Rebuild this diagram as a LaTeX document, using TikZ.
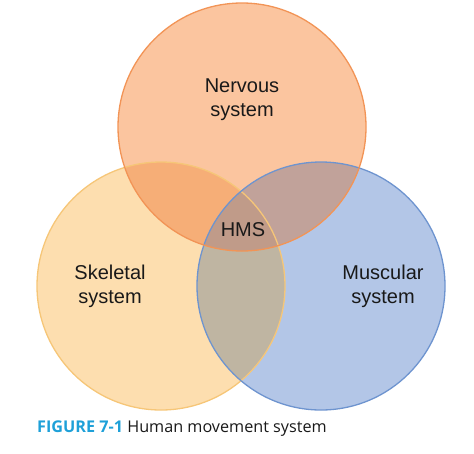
\documentclass[tikz,border=0pt]{standalone}
\usepackage{fontspec}
\setmainfont{Liberation Sans}
\newfontfamily\capfont{Open Sans}
\usepackage{tikz}
\usetikzlibrary{positioning}
\usepackage{xcolor}

\definecolor{nerfill}{HTML}{FBC59F}
\definecolor{nerline}{HTML}{F29456}
\definecolor{skefill}{HTML}{FDDEAF}
\definecolor{skeline}{HTML}{F6C678}
\definecolor{musfill}{HTML}{B3C6E7}
\definecolor{musline}{HTML}{6E94CF}
\definecolor{nerske}{HTML}{F6AE77}
\definecolor{nermus}{HTML}{C1A29A}
\definecolor{skemus}{HTML}{BFB5A2}
\definecolor{hmsfill}{HTML}{C09B89}
\definecolor{capblue}{HTML}{1EA0D8}

\begin{document}
\begin{tikzpicture}[x=1pt,y=-1pt,
  every node/.style={align=center,text=black!90},
  label/.style={font=\fontsize{20}{24}\selectfont},
  ring/.style={line width=1.3pt}]
\useasboundingbox (0,0) rectangle (474,453);
\coordinate (ner) at (242,127);
\coordinate (ske) at (161,286);
\coordinate (mus) at (321,286);
\def\rad{124}
% circles
\fill[skefill] (ske) circle[radius=\rad];
\fill[musfill] (mus) circle[radius=\rad];
\begin{scope}
\clip (ske) circle[radius=\rad];
\fill[skemus] (mus) circle[radius=\rad];
\end{scope}
\fill[nerfill] (ner) circle[radius=\rad];
% overlaps with the top circle
\begin{scope}
\clip (ner) circle[radius=\rad];
\fill[nerske] (ske) circle[radius=\rad];
\fill[nermus] (mus) circle[radius=\rad];
\clip (ske) circle[radius=\rad];
\fill[hmsfill] (mus) circle[radius=\rad];
\end{scope}
% outlines
\draw[ring,skeline] (ske) circle[radius=\rad];
\draw[ring,musline] (mus) circle[radius=\rad];
\draw[ring,nerline] (ner) circle[radius=\rad];
% labels
\node[label] (nervous) at (242,100) {Nervous\\system};
\node[label] (skeletal) at (110,286) {Skeletal\\system};
\node[label] (muscular) at (383,286) {Muscular\\system};
\node[label] (hms) at (243,230) {HMS};
\node[anchor=base west,inner sep=0pt,font=\capfont\fontsize{16.2}{19}\selectfont] (caption) at (37,432)
  {\textcolor{capblue}{\bfseries FIGURE 7-1} Human movement system};
\end{tikzpicture}
\end{document}
